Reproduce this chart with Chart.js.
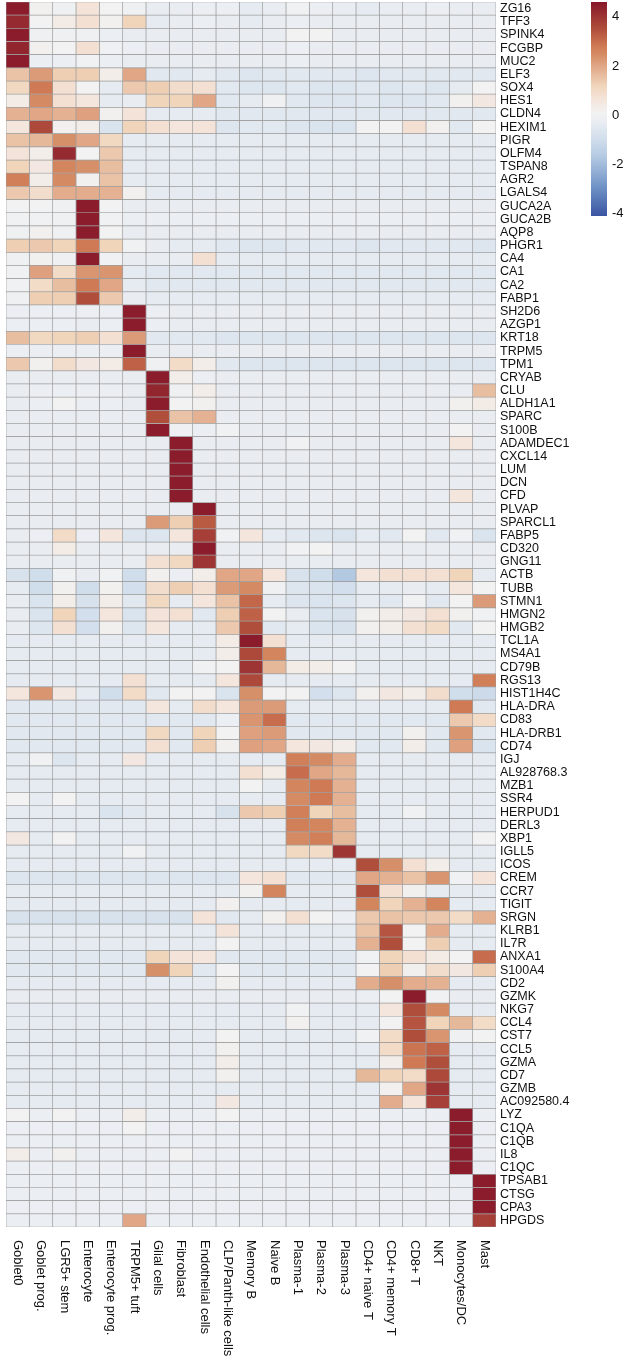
<!DOCTYPE html>
<html>
<head>
<meta charset="utf-8">
<title>Marker gene heatmap</title>
<script src="https://cdn.jsdelivr.net/npm/chart.js@4.4.1/dist/chart.umd.min.js"></script>
<style>
  html, body { margin: 0; padding: 0; background: #fff; }
  #wrap { position: relative; width: 626px; height: 1368px; }
  #heatmap { position: absolute; left: 0; top: 0; }
  #colorbar { position: absolute; left: 585px; top: 0; }
</style>
</head>
<body>
<div id="wrap">
  <canvas id="heatmap" width="626" height="1368"></canvas>
  <canvas id="colorbar" width="41" height="222"></canvas>
</div>
<script>
// Data
const cellTypes = ['Goblet0', 'Goblet prog.', 'LGR5+ stem', 'Enterocyte', 'Enterocyte prog.', 'TRPM5+ tuft',
  'Glial cells', 'Fibroblast', 'Endothelial cells', 'CLP/Panth-like cells', 'Memory B', 'Naive B',
  'Plasma-1', 'Plasma-2', 'Plasma-3', 'CD4+ naive T', 'CD4+ memory T', 'CD8+ T', 'NKT', 'Monocytes/DC', 'Mast'];

const genes = ['ZG16', 'TFF3', 'SPINK4', 'FCGBP', 'MUC2', 'ELF3', 'SOX4', 'HES1', 'CLDN4', 'HEXIM1',
  'PIGR', 'OLFM4', 'TSPAN8', 'AGR2', 'LGALS4', 'GUCA2A', 'GUCA2B', 'AQP8', 'PHGR1', 'CA4', 'CA1', 'CA2',
  'FABP1', 'SH2D6', 'AZGP1', 'KRT18', 'TRPM5', 'TPM1', 'CRYAB', 'CLU', 'ALDH1A1', 'SPARC', 'S100B',
  'ADAMDEC1', 'CXCL14', 'LUM', 'DCN', 'CFD', 'PLVAP', 'SPARCL1', 'FABP5', 'CD320', 'GNG11', 'ACTB',
  'TUBB', 'STMN1', 'HMGN2', 'HMGB2', 'TCL1A', 'MS4A1', 'CD79B', 'RGS13', 'HIST1H4C', 'HLA-DRA', 'CD83',
  'HLA-DRB1', 'CD74', 'IGJ', 'AL928768.3', 'MZB1', 'SSR4', 'HERPUD1', 'DERL3', 'XBP1', 'IGLL5', 'ICOS',
  'CREM', 'CCR7', 'TIGIT', 'SRGN', 'KLRB1', 'IL7R', 'ANXA1', 'S100A4', 'CD2', 'GZMK', 'NKG7', 'CCL4',
  'CST7', 'CCL5', 'GZMA', 'CD7', 'GZMB', 'AC092580.4', 'LYZ', 'C1QA', 'C1QB', 'IL8', 'C1QC', 'TPSAB1',
  'CTSG', 'CPA3', 'HPGDS'];

// scaled expression, one row per gene, one value per cell type
const epithelialZ = [
  [ 4.5, 0.2,-0.1, 0.7, 0.1,  -0.1,-0.3,-0.3,-0.2,-0.2,  -0.4,-0.3, 0.0,-0.2,-0.3,  -0.4,-0.3,-0.3,-0.2,-0.3,-0.3],
  [ 4.2, 0.1, 0.4, 0.8, 0.2,   1.2,-0.4,-0.3,-0.2,-0.3,  -0.4,-0.3,-0.2,-0.3,-0.3,  -0.3,-0.3,-0.3,-0.3,-0.3,-0.3],
  [ 4.5,-0.1,-0.1,-0.1,-0.2,  -0.3,-0.3,-0.3,-0.3,-0.3,  -0.3,-0.3, 0.1, 0.1,-0.3,  -0.3,-0.3,-0.3,-0.3,-0.3,-0.3],
  [ 4.3, 0.2, 0.1, 0.8,-0.1,  -0.2,-0.3,-0.3,-0.3,-0.3,  -0.3,-0.3,-0.2,-0.3,-0.3,  -0.3,-0.3,-0.3,-0.3,-0.3,-0.3],
  [ 4.5,-0.2,-0.2, 0.0,-0.2,  -0.3,-0.3,-0.3,-0.3,-0.3,  -0.3,-0.3,-0.2,-0.3,-0.3,  -0.3,-0.3,-0.3,-0.3,-0.3,-0.3],
  [ 1.5, 2.2, 1.3, 1.3, 0.3,   2.0,-0.5,-0.5,-0.4,-0.5,  -0.6,-0.5,-0.5,-0.5,-0.5,  -0.6,-0.5,-0.5,-0.5,-0.5,-0.5],
  [ 1.1, 2.8, 0.8, 0.1,-0.4,   1.4, 1.3, 0.9, 0.8,-0.5,  -0.6,-0.6,-0.5,-0.6,-0.6,  -0.5,-0.6,-0.5,-0.6,-0.4, 0.1],
  [ 0.4, 2.5, 0.8, 0.6,-0.4,  -0.3, 1.2, 1.2, 2.0,-0.5,  -0.4,-0.1,-0.5,-0.6,-0.6,  -0.5,-0.6,-0.6,-0.5, 0.2, 0.5],
  [ 1.8, 2.0, 1.8, 2.1, 0.2,   0.7,-0.4,-0.4,-0.4,-0.5,  -0.5,-0.5,-0.5,-0.5,-0.5,  -0.5,-0.5,-0.5,-0.5,-0.5,-0.5],
  [ 0.6, 3.6, 0.2, 0.3,-0.7,   1.2, 0.8, 0.6, 0.7,-0.6,  -0.5,-0.5,-0.6,-0.7,-0.7,   0.1, 0.1, 0.8, 0.2,-0.5, 0.1],
  [ 1.5, 1.7, 2.4, 2.0, 1.1,  -0.4,-0.4,-0.4,-0.4,-0.4,  -0.4,-0.4,-0.4,-0.4,-0.4,  -0.4,-0.4,-0.4,-0.4,-0.4,-0.4],
  [ 0.7, 0.3, 4.2, 0.1, 1.4,  -0.4,-0.4,-0.4,-0.4,-0.4,  -0.4,-0.4,-0.4,-0.4,-0.4,  -0.4,-0.4,-0.4,-0.4,-0.4,-0.4],
  [ 1.2, 0.5, 2.6, 2.4, 1.6,  -0.4,-0.4,-0.4,-0.4,-0.4,  -0.4,-0.4,-0.4,-0.4,-0.4,  -0.4,-0.4,-0.4,-0.4,-0.4,-0.4],
  [ 2.7, 0.3, 2.5, 0.2, 1.5,  -0.4,-0.4,-0.4,-0.4,-0.4,  -0.4,-0.4,-0.4,-0.4,-0.4,  -0.4,-0.4,-0.4,-0.4,-0.4,-0.4],
  [ 1.4, 0.9, 1.9, 1.9, 1.8,   0.2,-0.4,-0.4,-0.4,-0.4,  -0.4,-0.4,-0.4,-0.4,-0.4,  -0.4,-0.4,-0.4,-0.4,-0.4,-0.4],
  [ 0.1, 0.1,-0.1, 4.5, 0.1,  -0.3,-0.3,-0.3,-0.3,-0.3,  -0.3,-0.3,-0.3,-0.3,-0.3,  -0.3,-0.3,-0.3,-0.3,-0.3,-0.3],
  [ 0.0, 0.0,-0.1, 4.5, 0.0,  -0.2,-0.2,-0.2,-0.2,-0.2,  -0.2,-0.2,-0.2,-0.2,-0.2,  -0.2,-0.2,-0.2,-0.2,-0.2,-0.2],
  [-0.1, 0.2,-0.1, 4.5, 0.1,  -0.3,-0.3,-0.3,-0.3,-0.3,  -0.3,-0.3,-0.3,-0.3,-0.3,  -0.3,-0.3,-0.3,-0.3,-0.3,-0.3],
  [ 1.3, 1.4, 1.2, 2.8, 1.2,   0.0,-0.3,-0.4,-0.4,-0.5,  -0.6,-0.6,-0.5,-0.5,-0.5,  -0.6,-0.5,-0.5,-0.5,-0.5,-0.6],
  [-0.1, 0.2,-0.1, 4.5, 0.0,  -0.3,-0.3,-0.3, 0.8,-0.4,  -0.4,-0.4,-0.4,-0.4,-0.4,  -0.4,-0.4,-0.4,-0.4,-0.4,-0.4],
  [ 0.0, 2.1, 1.0, 2.3, 2.3,  -0.4,-0.5,-0.5,-0.5,-0.5,  -0.5,-0.5,-0.5,-0.5,-0.5,  -0.5,-0.5,-0.5,-0.5,-0.5,-0.5],
  [ 0.0, 1.0, 1.6, 2.8, 2.0,  -0.4,-0.5,-0.5,-0.5,-0.5,  -0.5,-0.5,-0.5,-0.5,-0.5,  -0.5,-0.5,-0.5,-0.5,-0.5,-0.5],
  [-0.1, 1.3, 1.3, 3.5, 1.4,  -0.3,-0.4,-0.4,-0.4,-0.4,  -0.4,-0.4,-0.4,-0.4,-0.4,  -0.4,-0.4,-0.4,-0.4,-0.4,-0.4],
  [-0.2,-0.2,-0.2,-0.2,-0.2,   4.5,-0.2,-0.3,-0.3,-0.3,  -0.3,-0.3,-0.3,-0.3,-0.3,  -0.3,-0.3,-0.3,-0.3,-0.3,-0.3],
  [-0.2,-0.2,-0.2,-0.3,-0.2,   4.5,-0.2,-0.3,-0.3,-0.3,  -0.3,-0.3,-0.3,-0.3,-0.3,  -0.3,-0.3,-0.3,-0.3,-0.3,-0.3],
  [ 1.6, 1.1, 1.2, 1.3, 0.8,   2.2,-0.5,-0.5,-0.5,-0.6,  -0.6,-0.6,-0.6,-0.6,-0.6,  -0.6,-0.6,-0.6,-0.6,-0.6,-0.6],
  [-0.2,-0.2,-0.2,-0.2,-0.2,   4.5,-0.3,-0.3,-0.3,-0.3,  -0.3,-0.3,-0.3,-0.3,-0.3,  -0.3,-0.3,-0.3,-0.3,-0.3,-0.3],
  [ 1.4, 0.2, 0.9, 0.5, 0.4,   3.2,-0.1, 1.0, 0.3,-0.5,  -0.6,-0.6,-0.6,-0.6,-0.6,  -0.6,-0.6,-0.6,-0.6,-0.6,-0.6]
];

const stromalZ = [
  [-0.3,-0.3,-0.3,-0.3,-0.3,  -0.3, 4.5, 0.3,-0.2,-0.3,  -0.3,-0.3,-0.3,-0.3,-0.3,  -0.3,-0.3,-0.3,-0.3,-0.3,-0.3],
  [-0.3,-0.2,-0.2,-0.2,-0.2,  -0.3, 4.3,-0.1, 0.3,-0.3,  -0.3,-0.3,-0.3,-0.3,-0.3,  -0.3,-0.3,-0.3,-0.3,-0.3, 1.6],
  [-0.3,-0.2, 0.1,-0.2,-0.2,  -0.3, 4.5, 0.1, 0.2,-0.3,  -0.3,-0.3,-0.3,-0.3,-0.3,  -0.3,-0.3,-0.3,-0.3, 0.2, 0.4],
  [-0.3,-0.3,-0.3,-0.3,-0.3,  -0.3, 3.5, 1.5, 1.8,-0.3,  -0.3,-0.3,-0.3,-0.3,-0.3,  -0.3,-0.3,-0.3,-0.3,-0.3,-0.3],
  [-0.3,-0.3,-0.3,-0.3,-0.3,  -0.3, 4.5,-0.1,-0.2, 0.0,  -0.3,-0.3,-0.3,-0.3,-0.3,  -0.3,-0.3,-0.3,-0.3, 0.1,-0.3],
  [-0.3,-0.3,-0.3,-0.3,-0.3,  -0.3,-0.3, 4.5,-0.3,-0.3,  -0.3,-0.3, 0.0,-0.3,-0.3,  -0.3,-0.3,-0.3,-0.3, 0.6,-0.3],
  [-0.3,-0.3,-0.3,-0.3,-0.3,  -0.3,-0.3, 4.5,-0.3,-0.3,  -0.3,-0.3,-0.3,-0.3,-0.3,  -0.3,-0.3,-0.3,-0.3,-0.3,-0.3],
  [-0.3,-0.3,-0.3,-0.3,-0.3,  -0.3,-0.3, 4.5,-0.3,-0.3,  -0.3,-0.3,-0.3,-0.3,-0.3,  -0.3,-0.3,-0.3,-0.3,-0.3,-0.3],
  [-0.3,-0.3,-0.3,-0.3,-0.3,  -0.3,-0.3, 4.5,-0.3,-0.3,  -0.3,-0.3,-0.3,-0.3,-0.3,  -0.3,-0.3,-0.3,-0.3,-0.3,-0.3],
  [-0.3,-0.3,-0.3,-0.3,-0.3,  -0.3,-0.3, 4.5,-0.3,-0.3,  -0.3,-0.3,-0.3,-0.3,-0.3,  -0.3,-0.3,-0.3,-0.3, 0.6,-0.3],
  [-0.3,-0.3,-0.3,-0.3,-0.3,  -0.3,-0.3,-0.3, 4.5,-0.3,  -0.3,-0.3,-0.3,-0.3,-0.3,  -0.3,-0.3,-0.3,-0.3,-0.3,-0.3],
  [-0.3,-0.3,-0.3,-0.3,-0.3,  -0.3, 2.2, 1.3, 3.3,-0.3,  -0.3,-0.3,-0.3,-0.3,-0.3,  -0.3,-0.3,-0.3,-0.3,-0.3,-0.3],
  [-0.3,-0.2, 1.0,-0.2, 0.6,  -0.6,-0.6, 0.6, 3.8, 0.0,   0.6,-0.4,-0.5,-0.6,-0.7,  -0.4,-0.5, 0.1,-0.5, 0.0,-0.7],
  [-0.3,-0.3, 0.4,-0.3,-0.3,  -0.3,-0.3,-0.3, 4.5,-0.3,  -0.3,-0.3, 0.0, 0.1,-0.3,  -0.3,-0.3,-0.3,-0.3,-0.3,-0.3],
  [-0.3,-0.3,-0.3,-0.3,-0.3,  -0.3, 0.8, 1.1, 4.0,-0.3,  -0.3,-0.3,-0.3,-0.3,-0.3,  -0.3,-0.3,-0.3,-0.3,-0.3,-0.3]
];

const bCellZ = [
  [-0.8,-1.0, 0.0,-0.3, 0.0,  -1.0, 0.2,-0.2, 0.3, 2.0,   2.0, 0.6,-0.8,-1.0,-1.7,   0.6, 0.8, 0.8, 0.8, 1.2,-0.4],
  [-0.4,-1.0, 0.2,-1.0, 0.2,  -0.9, 0.9, 1.3, 0.8, 2.2,   2.5,-0.1,-0.6,-0.7,-0.9,  -0.4,-0.4,-0.3,-0.4, 0.6, 0.1],
  [-0.3,-0.7, 0.3,-0.8, 0.3,  -0.5, 1.1,-0.4, 0.6, 1.5,   3.1,-0.4,-0.6,-0.7,-0.6,  -0.4,-0.5, 0.0,-0.5, 0.1, 2.2],
  [-0.3,-0.7, 1.2,-0.9, 0.6,  -0.7, 0.7, 0.8,-0.5, 1.3,   3.2, 0.1,-0.3,-0.7,-0.8,   0.2, 0.3, 0.5, 0.8, 0.2, 0.0],
  [-0.3,-0.6, 0.8,-0.9, 0.2,  -0.6, 0.6,-0.4,-0.4, 1.4,   3.5,-0.5,-0.4,-0.7,-0.8,   0.2, 0.3, 0.8, 1.0,-0.5, 0.1],
  [-0.4,-0.4,-0.4,-0.4,-0.4,  -0.4,-0.4,-0.4,-0.4, 0.4,   4.5, 0.8,-0.4,-0.4,-0.4,  -0.4,-0.4,-0.4,-0.4,-0.4,-0.4],
  [-0.4,-0.4,-0.4,-0.4,-0.4,  -0.4,-0.4,-0.4,-0.4, 0.3,   3.6, 2.6,-0.4,-0.4,-0.4,  -0.4,-0.4,-0.4,-0.4,-0.4,-0.4],
  [-0.4,-0.4,-0.4,-0.4,-0.4,  -0.4,-0.4,-0.4, 0.0, 0.1,   4.0, 1.7, 0.4, 0.3, 0.1,  -0.4,-0.4,-0.4,-0.4,-0.4,-0.4],
  [-0.4,-0.4,-0.4,-0.4,-0.4,   0.8,-0.4,-0.4,-0.4, 0.6,   3.6,-0.4,-0.4,-0.4,-0.4,  -0.4,-0.4,-0.4,-0.4,-0.4, 2.7],
  [ 0.6, 2.3, 0.5,-0.4,-1.0,   1.0,-0.5, 0.1, 0.1,-0.7,   2.4, 0.1, 0.1,-0.9,-0.6,   0.2, 0.5, 0.3, 0.9,-1.0,-1.1],
  [-0.5,-0.5,-0.5,-0.5,-0.5,  -0.5, 0.6,-0.4, 0.9, 0.6,   2.2, 2.2,-0.4,-0.4,-0.4,  -0.4,-0.4,-0.4,-0.4, 2.8,-0.5],
  [-0.5,-0.5,-0.5,-0.5,-0.5,  -0.5,-0.5,-0.5,-0.5,-0.2,   2.3, 3.0,-0.5,-0.5,-0.5,  -0.5,-0.5,-0.5,-0.5, 1.4, 1.0],
  [-0.5,-0.5,-0.5,-0.5,-0.5,  -0.5, 1.1,-0.5, 1.2, 0.1,   2.1, 2.2,-0.5,-0.5,-0.5,  -0.5,-0.5, 0.2,-0.5, 2.3,-0.5],
  [-0.5,-0.5,-0.5,-0.5,-0.5,  -0.5, 0.8,-0.5, 1.3, 0.2,   2.1, 2.0, 0.6, 0.5, 0.3,  -0.5,-0.5, 0.3,-0.5, 2.1,-0.7]
];

const plasmaZ = [
  [-0.4, 0.0,-0.6,-0.4,-0.4,   0.5,-0.4,-0.4,-0.4,-0.4,  -0.4,-0.4, 2.7, 2.5, 1.9,  -0.4,-0.4,-0.4,-0.4,-0.4,-0.4],
  [-0.4,-0.4,-0.4,-0.4,-0.4,  -0.4,-0.4,-0.4,-0.4,-0.4,   0.8, 0.4, 3.0, 2.0, 1.7,  -0.4,-0.4,-0.4,-0.4,-0.4,-0.4],
  [-0.4,-0.4,-0.4,-0.4,-0.4,  -0.4,-0.4,-0.4,-0.4,-0.4,   0.1,-0.4, 2.6, 2.8, 1.8,  -0.4,-0.4,-0.4,-0.4,-0.4,-0.4],
  [ 0.1,-0.4, 0.1,-0.4,-0.4,  -0.4,-0.4,-0.4,-0.4,-0.4,  -0.4,-0.4, 2.5, 2.8, 1.8,  -0.4,-0.4,-0.4,-0.4,-0.4,-0.4],
  [-0.4,-0.4,-0.4,-0.4,-0.7,  -0.5,-0.4,-0.4,-0.4,-0.8,   1.4, 1.3, 2.7, 1.2, 1.6,  -0.4,-0.4, 0.0,-0.4,-0.4,-0.4],
  [-0.4,-0.4,-0.4,-0.4,-0.4,  -0.4,-0.4,-0.4,-0.4,-0.4,  -0.4,-0.4, 2.7, 2.6, 1.8,  -0.4,-0.4,-0.4,-0.4,-0.4,-0.4],
  [ 0.5,-0.4, 0.1,-0.4,-0.4,  -0.4,-0.4,-0.4,-0.4,-0.4,  -0.4,-0.4, 2.5, 2.7, 1.7,  -0.4,-0.4,-0.4,-0.4,-0.4, 0.1],
  [-0.4,-0.4,-0.4,-0.4,-0.4,   0.0,-0.4,-0.4,-0.4,-0.4,  -0.4,-0.4, 1.1, 1.0, 4.0,  -0.4,-0.4,-0.4,-0.4,-0.4,-0.4]
];

const tCellZ = [
  [-0.4,-0.4,-0.4,-0.4,-0.4,  -0.4,-0.4,-0.4,-0.4,-0.4,  -0.4,-0.4,-0.4,-0.4,-0.4,   3.5, 2.4, 0.8, 0.3,-0.4,-0.4],
  [-0.6,-0.6,-0.6,-0.6,-0.6,  -0.6,-0.6,-0.6,-0.6,-0.6,   0.6, 0.8,-0.5,-0.5,-0.5,   2.0, 1.8, 1.5, 2.3, 0.0, 0.7],
  [-0.4,-0.4,-0.4,-0.4,-0.4,  -0.4,-0.4,-0.4,-0.4,-0.4,   0.2, 2.6,-0.4,-0.4,-0.4,   3.5, 0.8, 0.2,-0.4,-0.4,-0.4],
  [-0.4,-0.4,-0.4,-0.4,-0.4,  -0.4,-0.4,-0.4,-0.4, 0.2,  -0.4,-0.4,-0.4,-0.4,-0.4,   2.6, 1.2, 1.8, 2.6,-0.4,-0.4],
  [-0.8,-0.8,-0.8,-0.8,-0.8,  -0.8,-0.8,-0.8, 0.7,-0.5,  -0.4, 0.2, 0.8, 0.1,-0.2,   1.4, 1.5, 1.4, 1.4, 1.0, 1.8],
  [-0.4,-0.4,-0.4,-0.4,-0.4,  -0.4,-0.4,-0.4,-0.4, 0.7,  -0.4,-0.4,-0.4,-0.4,-0.4,   1.5, 3.4, 0.1, 1.9,-0.4,-0.4],
  [-0.4,-0.4,-0.4,-0.4,-0.4,  -0.4,-0.4,-0.4,-0.4, 0.1,  -0.4,-0.4,-0.4,-0.4,-0.4,   1.8, 3.5, 0.1, 1.3,-0.4,-0.4],
  [-0.5,-0.5,-0.5,-0.5,-0.5,  -0.5, 1.2, 0.7, 0.6,-0.5,  -0.5,-0.5,-0.5,-0.5,-0.5,   0.0, 1.2, 0.8, 0.4, 0.1, 3.0],
  [-0.5,-0.5,-0.5,-0.5,-0.5,  -0.5, 2.4, 1.2,-0.5, 0.1,  -0.5,-0.5,-0.5,-0.5,-0.5,   0.1, 1.3, 0.2, 0.9, 0.5, 1.3],
  [-0.4,-0.4,-0.4,-0.4,-0.4,  -0.4,-0.4,-0.4,-0.4, 0.2,  -0.4,-0.4,-0.4,-0.4,-0.4,   1.9, 2.4, 1.9, 1.8,-0.4,-0.4],
  [-0.3,-0.3,-0.3,-0.3,-0.3,  -0.3,-0.3,-0.3,-0.3,-0.3,  -0.3,-0.3,-0.3,-0.3,-0.3,  -0.2, 0.1, 4.5, 0.0,-0.3,-0.3],
  [-0.4,-0.4,-0.4,-0.4,-0.4,  -0.4,-0.4,-0.4,-0.4,-0.4,  -0.4,-0.4, 0.0,-0.4,-0.4,  -0.4, 0.6, 3.5, 2.5,-0.4,-0.4],
  [-0.4,-0.4,-0.4,-0.4,-0.4,  -0.4,-0.4,-0.4,-0.4,-0.4,  -0.4,-0.4, 0.2,-0.4,-0.4,  -0.4, 0.1, 3.4, 1.2, 1.7, 1.0],
  [-0.4,-0.4,-0.4,-0.4,-0.4,  -0.4,-0.4,-0.4,-0.4, 0.1,  -0.4,-0.4,-0.4,-0.4,-0.4,   0.0, 1.0, 3.5, 2.3,-0.1, 0.1],
  [-0.4,-0.4,-0.4,-0.4,-0.4,  -0.4,-0.4,-0.4,-0.4, 0.2,  -0.4,-0.4,-0.4,-0.4,-0.4,  -0.4, 1.0, 2.9, 3.2,-0.4,-0.4],
  [-0.4,-0.4,-0.4,-0.4,-0.4,  -0.4,-0.4,-0.4,-0.4, 0.3,  -0.4,-0.4,-0.4,-0.4,-0.4,  -0.4, 0.3, 2.8, 3.5,-0.4,-0.4],
  [-0.4,-0.4,-0.4,-0.4,-0.4,  -0.4,-0.4,-0.4,-0.4, 0.2,  -0.4,-0.4,-0.4,-0.4,-0.4,   1.7, 1.2, 1.0, 3.6,-0.4,-0.4],
  [-0.4,-0.4,-0.4,-0.4,-0.4,  -0.4,-0.4,-0.4,-0.4,-0.4,  -0.4,-0.4,-0.4,-0.4,-0.4,  -0.4, 0.2, 2.0, 4.0,-0.4,-0.4],
  [-0.4,-0.4,-0.4,-0.4,-0.4,  -0.4,-0.4,-0.4,-0.4, 0.5,  -0.4,-0.4,-0.4,-0.4,-0.4,  -0.4, 1.9, 0.7, 3.8,-0.4,-0.4]
];

const myeloidMastZ = [
  [ 0.1,-0.2, 0.1,-0.2,-0.2,   0.3,-0.2,-0.2,-0.2, 0.1,  -0.2,-0.2,-0.2,-0.2,-0.2,  -0.2,-0.2,-0.2,-0.2, 4.5,-0.2],
  [-0.2,-0.2,-0.2,-0.2,-0.2,   0.1,-0.2,-0.2,-0.2,-0.2,  -0.2,-0.2,-0.2,-0.2,-0.2,  -0.2,-0.2,-0.2,-0.2, 4.5,-0.2],
  [-0.2,-0.2,-0.2,-0.2,-0.2,  -0.2,-0.2,-0.2,-0.2,-0.2,  -0.2,-0.2,-0.2,-0.2,-0.2,  -0.2,-0.2,-0.2,-0.2, 4.5,-0.2],
  [ 0.3,-0.2, 0.2,-0.2,-0.2,  -0.2,-0.2, 0.1,-0.2,-0.2,  -0.2,-0.2,-0.2,-0.2,-0.2,  -0.2,-0.2,-0.2,-0.2, 4.5,-0.2],
  [-0.2,-0.2,-0.2,-0.2,-0.2,  -0.2,-0.2,-0.2,-0.2,-0.2,  -0.2,-0.2,-0.2,-0.2,-0.2,  -0.2,-0.2,-0.2,-0.2, 4.5,-0.2],
  [-0.2,-0.2,-0.2,-0.2,-0.2,  -0.2,-0.2,-0.2,-0.2,-0.2,  -0.2,-0.2,-0.2,-0.2,-0.2,  -0.2,-0.2,-0.2,-0.2,-0.2, 4.5],
  [-0.2,-0.2,-0.2,-0.2,-0.2,  -0.2,-0.2,-0.2,-0.2,-0.2,  -0.2,-0.2,-0.2,-0.2,-0.2,  -0.2,-0.2,-0.2,-0.2,-0.2, 4.5],
  [-0.2,-0.2,-0.2,-0.2,-0.2,  -0.2,-0.2,-0.2,-0.2,-0.2,  -0.2,-0.2,-0.2,-0.2,-0.2,  -0.2,-0.2,-0.2,-0.2,-0.2, 4.5],
  [-0.2,-0.2,-0.2,-0.2,-0.2,   2.0,-0.2,-0.2,-0.2,-0.2,  -0.2,-0.2,-0.2,-0.2,-0.2,  -0.2,-0.2,-0.2,-0.2,-0.2, 3.8]
];

const zscores = [...epithelialZ, ...stromalZ, ...bCellZ, ...plasmaZ, ...tCellZ, ...myeloidMastZ];

// Colour scale
const scaleMin = -4.1;
const scaleMax = 4.6;
const colorTicks = [-4, -2, 0, 2, 4];
const colorStops = [
  [-4.1, '#3a54a2'], [-3.0, '#6b8fc4'], [-1.7, '#b3c9e2'], [-1.0, '#d0ddeb'],
  [-0.6, '#dde6ef'], [-0.3, '#e9edf2'], [0.1, '#f2f2f2'], [0.7, '#f4e3d8'],
  [1.2, '#f0d5bb'], [2.0, '#e0a686'], [2.5, '#d48a62'], [2.8, '#d07a55'],
  [3.5, '#b04e3c'], [4.6, '#86172a']
];

const hexToRgb = (hex) => [1, 3, 5].map(i => parseInt(hex.slice(i, i + 2), 16));

const zColor = (v) => {
    const val = Math.max(scaleMin, Math.min(scaleMax, v));
    for (let i = 1; i < colorStops.length; i++) {
        const [v1, c1] = colorStops[i];
        if (val <= v1) {
            const [v0, c0] = colorStops[i - 1];
            const t = (val - v0) / (v1 - v0);
            const a = hexToRgb(c0), b = hexToRgb(c1);
            const rgb = a.map((x, k) => Math.round(x + (b[k] - x) * t));
            return `rgb(${rgb.join(',')})`;
        }
    }
    return colorStops[colorStops.length - 1][1];
};

const fontFamily = '"Liberation Sans", Arial, Helvetica, sans-serif';

// labels on the side axes should not push the plot area around
const noEdgePadding = (scale) => {
    scale.paddingTop = 0;
    scale.paddingBottom = 0;
};

// Column labels, read top to bottom under the heatmap
const columnLabels = {
    id: 'columnLabels',
    afterDraw(chart) {
        const { ctx, chartArea, scales: { x } } = chart;
        ctx.save();
        ctx.fillStyle = '#111';
        ctx.font = `13px ${fontFamily}`;
        ctx.textAlign = 'left';
        ctx.textBaseline = 'middle';
        cellTypes.forEach((name, c) => {
            ctx.save();
            ctx.translate(x.getPixelForValue(c + 0.5), chartArea.bottom + 13);
            ctx.rotate(Math.PI / 2);
            ctx.fillText(name, 0, 0);
            ctx.restore();
        });
        ctx.restore();
    }
};

// Heatmap: one floating-bar dataset per cell type
const datasets = cellTypes.map((name, c) => ({
    label: name,
    data: genes.map(() => [c, c + 1]),
    backgroundColor: zscores.map(row => zColor(row[c])),
    borderColor: '#9e9e9e',
    borderWidth: 0.7,
    borderSkipped: false,
    grouped: false,
    barPercentage: 1,
    categoryPercentage: 1
}));

new Chart(document.getElementById('heatmap'), {
    type: 'bar',
    data: { labels: genes, datasets },
    options: {
        indexAxis: 'y',
        responsive: false,
        animation: false,
        devicePixelRatio: 1,
        layout: { padding: { left: 6, top: 2, right: 0, bottom: 141 } },
        plugins: {
            legend: { display: false },
            tooltip: { enabled: false }
        },
        scales: {
            x: { type: 'linear', min: 0, max: cellTypes.length, display: false },
            y: {
                type: 'category',
                position: 'right',
                offset: true,
                grid: { display: false, drawTicks: false, tickLength: 0 },
                border: { display: false },
                ticks: {
                    autoSkip: false,
                    color: '#111',
                    padding: 4,
                    font: { family: fontFamily, size: 12.5 }
                },
                afterFit: (scale) => {
                    scale.width = 130;
                    noEdgePadding(scale);
                }
            }
        }
    },
    plugins: [columnLabels]
});

// Colour key
new Chart(document.getElementById('colorbar'), {
    type: 'bar',
    data: {
        labels: [''],
        datasets: [{
            data: [[scaleMin, scaleMax]],
            backgroundColor: (context) => {
                const chart = context.chart;
                if (!chart.chartArea) return '#f2f2f2';
                const y = chart.scales.y;
                const g = chart.ctx.createLinearGradient(0, y.getPixelForValue(scaleMin), 0, y.getPixelForValue(scaleMax));
                colorStops.forEach(([v, col]) => g.addColorStop((v - scaleMin) / (scaleMax - scaleMin), col));
                return g;
            },
            borderWidth: 0,
            barPercentage: 1,
            categoryPercentage: 1
        }]
    },
    options: {
        responsive: false,
        animation: false,
        devicePixelRatio: 1,
        layout: { padding: { left: 6, top: 2, right: 0, bottom: 6 } },
        plugins: {
            legend: { display: false },
            tooltip: { enabled: false }
        },
        scales: {
            x: { display: false },
            y: {
                position: 'right',
                min: scaleMin,
                max: scaleMax,
                grid: { display: false, drawTicks: false, tickLength: 0 },
                border: { display: false },
                afterBuildTicks: (scale) => { scale.ticks = colorTicks.map(v => ({ value: v })); },
                ticks: {
                    color: '#111',
                    padding: 5,
                    font: { family: fontFamily, size: 13 }
                },
                afterFit: (scale) => {
                    scale.width = 19;
                    noEdgePadding(scale);
                }
            }
        }
    }
});
</script>
</body>
</html>
